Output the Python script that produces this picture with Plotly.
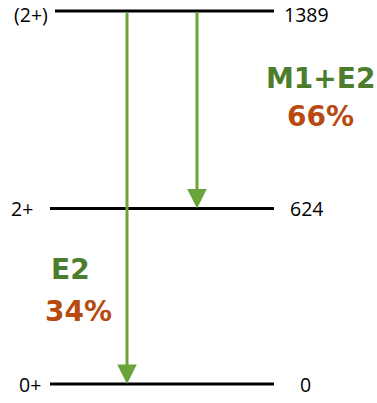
import plotly.graph_objects as go

# Data
level_energy = [0, 624, 1389]          # keV
level_spin = ["0+", "2+", "(2+)"]
energy_labels = ["0", "624", "1389"]
# schematic vertical positions of the levels (not to scale)
level_pos = [0.0, 1.0, 2.126]

transitions_from = [2, 2]   # indices into levels
transitions_to = [0, 1]
transition_type = ["E2", "M1+E2"]
transition_branch = ["34%", "66%"]

# Layout/style
W, H = 377, 403
line_x0 = [50, 50, 55]
line_x1 = 274
spin_x = [43, 35, 50]
energy_x = [305.5, 306.5, 306]
label_shift = [0, 0, -3]
arrow_x = [127, 197]
GREEN = "#6aa339"
DARK_GREEN = "#4c7d2c"
BROWN = "#b84a10"
FONT = "Open Sans"
BOLD_FONT = "DejaVu Sans"

fig = go.Figure()
for i, y in enumerate(level_pos):
    fig.add_trace(go.Scatter(x=[line_x0[i], line_x1], y=[y, y], mode="lines",
                             line=dict(color="black", width=3), showlegend=False,
                             hoverinfo="skip"))
    fig.add_annotation(x=spin_x[i], y=y, text=level_spin[i], showarrow=False,
                       xanchor="right", yanchor="middle", yshift=label_shift[i],
                       font=dict(family=FONT, size=19.5, color="black"))
    fig.add_annotation(x=energy_x[i], y=y, text=energy_labels[i],
                       showarrow=False, xanchor="center", yanchor="middle",
                       yshift=label_shift[i],
                       font=dict(family=FONT, size=19.5, color="black"))

for k in range(len(transitions_from)):
    y0 = level_pos[transitions_from[k]]
    y1 = level_pos[transitions_to[k]]
    fig.add_annotation(x=arrow_x[k], y=y1, ax=arrow_x[k], ay=y0,
                       xref="x", yref="y", axref="x", ayref="y",
                       showarrow=True, arrowhead=2, arrowsize=1.3,
                       arrowwidth=3, arrowcolor=GREEN, text="")

# transition labels (x, y of type label, y of branching label)
lab_pos = [(70, 0.650, 0.413), (320.5, 1.741, 1.525)]
for k in range(len(transition_type)):
    x, yt, yb = lab_pos[k]
    fig.add_annotation(x=x, y=yt, text="<b>" + transition_type[k] + "</b>",
                       showarrow=False, xanchor="center", yanchor="middle",
                       font=dict(family=BOLD_FONT, size=28, color=DARK_GREEN))
    fig.add_annotation(x=x + (8 if k == 0 else 0), y=yb,
                       text="<b>" + transition_branch[k] + "</b>",
                       showarrow=False, xanchor="center", yanchor="middle",
                       font=dict(family=BOLD_FONT, size=28, color=BROWN))

unit = 373 / level_pos[2]
fig.update_layout(
    width=W, height=H, margin=dict(l=0, r=0, t=0, b=0),
    paper_bgcolor="white", plot_bgcolor="white",
    xaxis=dict(range=[0, W], visible=False, fixedrange=True),
    yaxis=dict(range=[-19 / unit, level_pos[2] + 11 / unit], visible=False, fixedrange=True),
)
fig.write_html("out.html", config={"displayModeBar": False},
               post_script="document.body.style.margin='0';")
